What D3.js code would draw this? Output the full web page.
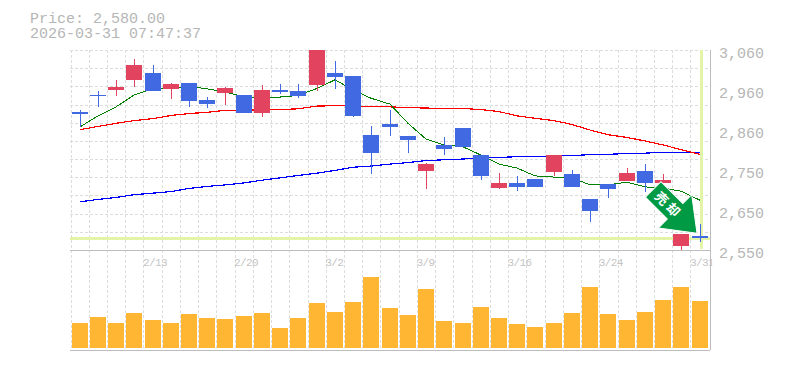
<!DOCTYPE html>
<html>
<head>
<meta charset="utf-8">
<script src="https://cdn.jsdelivr.net/npm/d3@7.9.0/dist/d3.min.js"></script>
<style>
  html, body { margin: 0; padding: 0; background: #fff; }
  svg { display: block; }
  text { font-family: "Liberation Mono", monospace; fill: #b6b6b6; }
</style>
</head>
<body>
<svg id="chart" width="785" height="370"></svg>
<script>
// Values
const opens  = [2902,2945,2958,2983,3001,2961,2976,2932,2950,2945,2899,2958,2955,2971,3001,2994,2843,2871,2841,2751,2818,2861,2792,2708,2721,2731,2749,2744,2680,2718,2726,2751,2721,2560,2586];
const closes = [2897,2943,2966,3022,2955,2973,2930,2922,2963,2899,2958,2953,2943,3060,2991,2892,2797,2864,2830,2769,2808,2813,2739,2721,2711,2711,2792,2711,2649,2706,2746,2721,2728,2591,2580];
const highs  = [2907,2955,2984,3037,3022,2976,2976,2940,2966,2945,2971,2973,2973,3060,3032,2994,2866,2907,2841,2772,2838,2861,2792,2746,2739,2731,2792,2754,2680,2718,2759,2769,2744,2591,2616];
const lows   = [2864,2915,2943,2966,2955,2935,2915,2912,2920,2899,2889,2948,2938,2955,2960,2889,2744,2841,2797,2706,2792,2813,2728,2706,2700,2711,2739,2711,2621,2683,2726,2698,2721,2547,2570];

const maShort = [2864,2892,2915,2945,2962,2963,2967,2961,2953,2941,2938,2940,2944,2962,2984,2958,2937,2922,2873,2833,2818,2813,2792,2769,2759,2739,2736,2734,2716,2716,2723,2711,2708,2700,2677];
const maMid   = [2857,2865,2873,2880,2885,2893,2898,2901,2906,2907,2907,2908,2910,2917,2918,2918,2915,2915,2913,2912,2911,2911,2908,2903,2892,2886,2880,2870,2856,2844,2837,2828,2818,2806,2794];
const maLong  = [2673,2679,2684,2691,2695,2699,2707,2712,2716,2721,2728,2734,2740,2746,2753,2761,2764,2769,2773,2778,2780,2782,2785,2786,2788,2788,2790,2791,2793,2794,2796,2797,2799,2799,2799];

const volumes = [25,31,25,35,28,25,34,30,29,32,35,20,30,45,36,46,71,40,33,59,27,25,41,30,24,21,25,35,61,34,28,36,48,61,47];

const dateLabels = ["2/13","2/20","3/2","3/9","3/16","3/24","3/31"];
const dateIndexes = [4,9,14,19,24,29,34];
const priceTicks = [3060,2958,2856,2754,2652,2550];
const lastPrice = 2580;
const titleLines = ["Price: 2,580.00","2026-03-31 07:47:37"];
const arrowText = "売却";

const svg = d3.select('#chart');
const plotLeft = 71, plotRight = 709.2, plotTop = 50, plotMid = 250, plotBottom = 350;
const index = d3.range(opens.length);

// 1. Scales
const x = d3.scaleBand().domain(index).range([plotLeft, plotRight]);
const cx = (i) => Math.floor(x(i) + x.step() / 2);
const y = d3.scaleLinear().domain([2550, 3060]).range([plotMid, plotTop]);
const v = d3.scaleLinear().domain([0, 100]).range([348, 248]);

svg.append('clipPath').attr('id', 'price-clip')
  .append('rect').attr('x', plotLeft - 1).attr('y', plotTop).attr('width', plotRight - plotLeft + 1).attr('height', plotMid - plotTop);
svg.append('clipPath').attr('id', 'date-clip')
  .append('rect').attr('x', plotLeft - 1).attr('y', plotMid).attr('width', plotRight - plotLeft + 4).attr('height', plotBottom - plotMid);

// 2. Dashed grid
const grid = svg.append('g')
  .attr('stroke', '#dcdcdc')
  .attr('stroke-dasharray', '3,2')
  .attr('shape-rendering', 'crispEdges');
index.forEach((i) => {
  const gx = Math.floor(x(i));
  grid.append('line').attr('x1', gx).attr('x2', gx).attr('y1', plotTop).attr('y2', plotBottom);
});
d3.range(0, 11).forEach((k) => {
  const gy = Math.round(plotTop + k * (plotMid - plotTop) / 11);
  grid.append('line').attr('x1', plotLeft - 1).attr('x2', plotRight).attr('y1', gy).attr('y2', gy);
});

// 3. Pane borders
const frame = svg.append('g').attr('stroke', '#bdbdbd').attr('shape-rendering', 'crispEdges');
frame.append('line').attr('x1', plotLeft - 1).attr('x2', 710).attr('y1', plotMid).attr('y2', plotMid);
frame.append('line').attr('x1', plotLeft - 1).attr('x2', 710).attr('y1', plotBottom).attr('y2', plotBottom);
frame.append('line').attr('x1', 710).attr('x2', 710).attr('y1', plotTop).attr('y2', plotBottom);

// 4. Current price and last bar markers
const marks = svg.append('g').attr('stroke', '#e3f3a8').attr('stroke-width', 3).attr('shape-rendering', 'crispEdges');
marks.append('line').attr('x1', plotLeft - 1).attr('x2', 710)
  .attr('y1', Math.round(y(lastPrice))).attr('y2', Math.round(y(lastPrice)));
marks.append('line').attr('x1', cx(34) + 1).attr('x2', cx(34) + 1).attr('y1', plotTop).attr('y2', 249);

// 5. Moving averages
const line = d3.line().x((d, i) => cx(i)).y((d) => y(d));
[[maLong, '#0000ff', 1.2], [maMid, '#ff0000', 1.2], [maShort, '#008000', 1]].forEach(([series, color, width]) => {
  svg.append('path')
    .attr('d', line(series))
    .attr('fill', 'none')
    .attr('stroke', color)
    .attr('stroke-width', width)
    .attr('shape-rendering', 'crispEdges');
});

// 6. Candles
const candles = svg.append('g').attr('clip-path', 'url(#price-clip)').attr('shape-rendering', 'crispEdges');
index.forEach((i) => {
  const color = closes[i] >= opens[i] ? '#e2435f' : '#4169e1';
  candles.append('line')
    .attr('x1', cx(i) + 0.5).attr('x2', cx(i) + 0.5)
    .attr('y1', y(highs[i])).attr('y2', y(lows[i]))
    .attr('stroke', color);
  const bodyTop = Math.round(y(Math.max(opens[i], closes[i])));
  const bodyBottom = Math.round(y(Math.min(opens[i], closes[i])));
  candles.append('rect')
    .attr('x', cx(i) - 8).attr('width', 16)
    .attr('y', bodyTop).attr('height', Math.max(1, bodyBottom - bodyTop))
    .attr('fill', color);
});

// 7. Volume
svg.append('g').attr('shape-rendering', 'crispEdges')
  .selectAll('rect').data(volumes).join('rect')
  .attr('x', (d, i) => cx(i) - 8)
  .attr('width', 16)
  .attr('y', (d) => v(d))
  .attr('height', (d) => v(0) - v(d))
  .attr('fill', '#ffb733');

// 8. Axis labels
const priceAxis = d3.axisRight(y)
  .tickValues(priceTicks)
  .tickSize(0)
  .tickPadding(0)
  .tickFormat((d) => d3.format(',')(Math.round(d / 10) * 10));
svg.append('g')
  .attr('transform', 'translate(719,0)')
  .call(priceAxis)
  .call((g) => g.select('.domain').remove())
  .selectAll('text')
  .attr('font-size', 15)
  .attr('dy', '7.5px')
  .attr('x', 0)
  .attr('y', 0);

svg.append('g').attr('clip-path', 'url(#date-clip)')
  .selectAll('text').data(dateLabels).join('text')
  .attr('x', (d, i) => x(dateIndexes[i]) - 1)
  .attr('y', 266)
  .attr('font-size', 11)
  .attr('letter-spacing', -0.6)
  .style('fill', '#c4c4c4')
  .text((d) => d);

// 9. Title
svg.selectAll('.title').data(titleLines).join('text')
  .attr('class', 'title')
  .attr('x', 30)
  .attr('y', (d, i) => 23 + i * 15)
  .attr('font-size', 15)
  .text((d) => d);

// 10. Arrow annotation, anchored to the last bar
const arrow = svg.append('g')
  .attr('transform', `translate(${cx(34) - 3},${y(lastPrice) - 5}) rotate(45)`);
arrow.append('path')
  .attr('d', 'M0,0 L-31,-23.5 L-31,-11 L-62,-11 L-62,11 L-31,11 L-31,23.5 Z')
  .attr('fill', '#009944')
  .attr('stroke', '#fff')
  .attr('stroke-width', 1)
  .attr('stroke-linejoin', 'miter');
arrow.append('text')
  .attr('x', -40)
  .attr('y', 5)
  .attr('text-anchor', 'middle')
  .attr('font-size', 13)
  .attr('font-weight', 'bold')
  .style('font-family', '"Noto Sans CJK JP", sans-serif')
  .style('fill', '#fff')
  .attr('letter-spacing', 3)
  .text(arrowText);
</script>
</body>
</html>
